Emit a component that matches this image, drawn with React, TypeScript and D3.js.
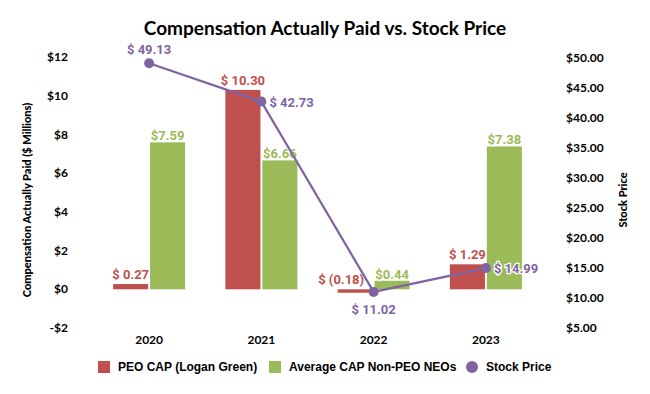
import { useEffect, useRef } from 'react'
import * as d3 from 'd3'

const years = ['2020', '2021', '2022', '2023']
const peoCap = [0.27, 10.3, -0.18, 1.29]
const neoCap = [7.59, 6.66, 0.44, 7.38]
const stockPrice = [49.13, 42.73, 11.02, 14.99]
const leftTicks = [-2, 0, 2, 4, 6, 8, 10, 12]
const rightTicks = [5, 10, 15, 20, 25, 30, 35, 40, 45, 50]

const RED = '#c0504d'
const GREEN = '#9bbb59'
const PURPLE = '#8064a2'

export default function App() {
  const svgRef = useRef<SVGSVGElement>(null)

  useEffect(() => {
    const svg = d3.select(svgRef.current)
    svg.selectAll('*').remove()

    const width = 650
    const height = 394
    svg.attr('width', width).attr('height', height).attr('viewBox', `0 0 ${width} ${height}`)
    svg.append('rect').attr('width', width).attr('height', height).attr('fill', '#fff')

    const x = d3.scaleBand().domain(years).range([93, 542]).padding(0)
    const inner = d3
      .scaleBand()
      .domain(['peo', 'neo'])
      .range([(x.bandwidth() - 72) / 2, (x.bandwidth() + 72) / 2])
      .paddingInner(0.05)
    const yL = d3.scaleLinear().domain([-2, 12]).range([328, 57])
    const yR = d3.scaleLinear().domain([5, 50]).range([328, 58])

    const tickFont = 'Lato, "Open Sans", sans-serif'
    const labelFont = 'Roboto, sans-serif'

    // title
    svg
      .append('text')
      .attr('x', 325)
      .attr('y', 35)
      .attr('text-anchor', 'middle')
      .style('font-family', tickFont)
      .style('font-weight', 700)
      .style('font-size', '19px')
      .attr('fill', '#000')
      .text('Compensation Actually Paid vs. Stock Price')

    // left ticks
    svg
      .append('g')
      .selectAll('text')
      .data(leftTicks)
      .join('text')
      .attr('x', 68)
      .attr('y', (d) => yL(d))
      .attr('dy', '0.35em')
      .attr('text-anchor', 'end')
      .style('font-family', tickFont)
      .style('font-weight', 700)
      .style('font-size', '12px')
      .text((d) => (d < 0 ? `-$${-d}` : `$${d}`))

    // right ticks
    svg
      .append('g')
      .selectAll('text')
      .data(rightTicks)
      .join('text')
      .attr('x', 566)
      .attr('y', (d) => yR(d))
      .attr('dy', '0.35em')
      .style('font-family', tickFont)
      .style('font-weight', 700)
      .style('font-size', '12px')
      .text((d) => `$${d.toFixed(2)}`)

    // axis titles
    svg
      .append('text')
      .attr('transform', `translate(31,200) rotate(-90)`)
      .attr('text-anchor', 'middle')
      .style('font-family', tickFont)
      .style('font-weight', 900)
      .style('font-size', '11px')
      .text('Compensation Actually Paid ($ Millions)')
    svg
      .append('text')
      .attr('transform', `translate(627,200) rotate(-90)`)
      .attr('text-anchor', 'middle')
      .style('font-family', tickFont)
      .style('font-weight', 900)
      .style('font-size', '11px')
      .text('Stock Price')

    // x labels
    svg
      .append('g')
      .selectAll('text')
      .data(years)
      .join('text')
      .attr('x', (d) => x(d)! + x.bandwidth() / 2)
      .attr('y', 344)
      .attr('text-anchor', 'middle')
      .style('font-family', tickFont)
      .style('font-weight', 700)
      .style('font-size', '12px')
      .text((d) => d)

    const rows = years.map((yr, i) => ({ yr, peo: peoCap[i], neo: neoCap[i], stock: stockPrice[i] }))

    // bars
    const bars = svg.append('g')
    bars
      .selectAll('rect.peo')
      .data(rows)
      .join('rect')
      .attr('class', 'peo')
      .attr('x', (d) => x(d.yr)! + inner('peo')!)
      .attr('y', (d) => yL(Math.max(0, d.peo)))
      .attr('width', inner.bandwidth())
      .attr('height', (d) => Math.max(1.5, Math.abs(yL(d.peo) - yL(0))))
      .attr('fill', RED)
    bars
      .selectAll('rect.neo')
      .data(rows)
      .join('rect')
      .attr('class', 'neo')
      .attr('x', (d) => x(d.yr)! + inner('neo')!)
      .attr('y', (d) => yL(Math.max(0, d.neo)))
      .attr('width', inner.bandwidth())
      .attr('height', (d) => Math.abs(yL(d.neo) - yL(0)))
      .attr('fill', GREEN)

    // bar labels
    const fmtPeo = (v: number) => (v < 0 ? `$ (${(-v).toFixed(2)})` : `$ ${v.toFixed(2)}`)
    const peoDx = [0, 0, -14, 0]
    svg
      .append('g')
      .selectAll('text')
      .data(rows)
      .join('text')
      .attr('x', (d, i) => x(d.yr)! + inner('peo')! + inner.bandwidth() / 2 + peoDx[i])
      .attr('y', (d) => yL(Math.max(0, d.peo)) - 5)
      .attr('text-anchor', 'middle')
      .style('font-family', labelFont)
      .style('font-weight', 700)
      .style('font-size', '13px')
      .attr('fill', RED)
      .text((d) => fmtPeo(d.peo))
    svg
      .append('g')
      .selectAll('text')
      .data(rows)
      .join('text')
      .attr('x', (d) => x(d.yr)! + inner('neo')! + inner.bandwidth() / 2)
      .attr('y', (d) => yL(d.neo) - 2)
      .attr('text-anchor', 'middle')
      .style('font-family', labelFont)
      .style('font-weight', 700)
      .style('font-size', '13px')
      .attr('fill', GREEN)
      .attr('stroke', '#fff')
      .attr('stroke-width', 2)
      .attr('paint-order', 'stroke')
      .text((d) => `$${d.neo.toFixed(2)}`)

    // stock line
    const cx = (d: { yr: string }) => x(d.yr)! + x.bandwidth() / 2
    const line = d3
      .line<(typeof rows)[number]>()
      .x(cx)
      .y((d) => yR(d.stock))
    svg
      .append('path')
      .datum(rows)
      .attr('d', line)
      .attr('fill', 'none')
      .attr('stroke', PURPLE)
      .attr('stroke-width', 2.25)
    svg
      .append('g')
      .selectAll('circle')
      .data(rows)
      .join('circle')
      .attr('cx', cx)
      .attr('cy', (d) => yR(d.stock))
      .attr('r', 5)
      .attr('fill', PURPLE)

    // stock labels: above, right, below, right
    const pos = [
      { dx: 0, dy: -9, anchor: 'middle' },
      { dx: 8, dy: 5, anchor: 'start' },
      { dx: 0, dy: 22, anchor: 'middle' },
      { dx: 8, dy: 5, anchor: 'start' },
    ]
    svg
      .append('g')
      .selectAll('text')
      .data(rows)
      .join('text')
      .attr('x', (d, i) => cx(d) + pos[i].dx)
      .attr('y', (d, i) => yR(d.stock) + pos[i].dy)
      .attr('text-anchor', (d, i) => pos[i].anchor)
      .style('font-family', labelFont)
      .style('font-weight', 700)
      .style('font-size', '13px')
      .attr('fill', PURPLE)
      .attr('stroke', '#fff')
      .attr('stroke-width', 2.5)
      .attr('paint-order', 'stroke')
      .text((d) => `$ ${d.stock.toFixed(2)}`)

    // legend
    const legend = svg.append('g').style('font-family', '"Liberation Sans", Arial, sans-serif')
    const items = [
      { label: 'PEO CAP (Logan Green)', color: RED, shape: 'rect', x: 98, tx: 118 },
      { label: 'Average CAP Non-PEO NEOs', color: GREEN, shape: 'rect', x: 269, tx: 289 },
      { label: 'Stock Price', color: PURPLE, shape: 'circle', x: 466, tx: 486 },
    ]
    items.forEach((it) => {
      if (it.shape === 'rect') {
        legend.append('rect').attr('x', it.x).attr('y', 361).attr('width', 12).attr('height', 12).attr('fill', it.color)
      } else {
        legend.append('circle').attr('cx', it.x + 6).attr('cy', 367).attr('r', 6).attr('fill', it.color)
      }
      legend
        .append('text')
        .attr('x', it.tx)
        .attr('y', 367)
        .attr('dy', '0.35em')
        .style('font-weight', 700)
        .style('font-size', '12px')
        .text(it.label)
    })
  }, [])

  return <svg ref={svgRef} style={{ position: 'absolute', left: 0, top: 0 }} />
}
